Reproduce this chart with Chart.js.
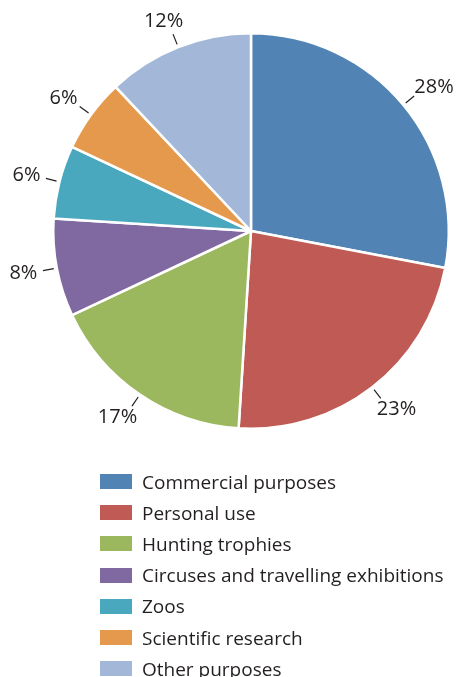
<!DOCTYPE html>
<html>
<head>
<meta charset="utf-8">
<script src="https://cdn.jsdelivr.net/npm/chart.js@4"></script>
<style>
  html, body { margin: 0; padding: 0; background: #fff; }
  #wrap { position: relative; width: 459px; height: 677px; overflow: hidden; }
  #pie { position: absolute; left: 0; top: 0; }
  #legend { position: absolute; left: 100px; top: 466px; font-family: "Open Sans", sans-serif; font-size: 19px; color: #231f20; }
  .row { display: flex; align-items: center; height: 31.2px; white-space: nowrap; }
  .box { width: 32px; height: 15px; margin-right: 10px; flex: none; }
</style>
</head>
<body>
<div id="wrap">
  <canvas id="pie" width="459" height="677"></canvas>
  <div id="legend"></div>
</div>
<script>
const categories = [
  "Commercial purposes",
  "Personal use",
  "Hunting trophies",
  "Circuses and travelling exhibitions",
  "Zoos",
  "Scientific research",
  "Other purposes"
];
const shares = [28, 23, 17, 8, 6, 6, 12];
const colors = ["#5183B5", "#BF5A54", "#9CB85F", "#8068A0", "#49A8BE", "#E5994C", "#A3B8D9"];

// percentage labels with short leader ticks outside each slice
const outsideLabels = {
  id: "outsideLabels",
  afterDatasetsDraw(chart) {
    const ctx = chart.ctx;
    const meta = chart.getDatasetMeta(0);
    ctx.save();
    ctx.font = "20px 'Open Sans', sans-serif";
    ctx.fillStyle = "#231f20";
    ctx.strokeStyle = "#231f20";
    ctx.lineWidth = 1.2;
    ctx.textAlign = "center";
    ctx.textBaseline = "middle";
    meta.data.forEach((arc, i) => {
      const { x, y, startAngle, endAngle, outerRadius } = arc.getProps(["x", "y", "startAngle", "endAngle", "outerRadius"], true);
      const mid = (startAngle + endAngle) / 2;
      const dx = Math.cos(mid), dy = Math.sin(mid);
      const r1 = outerRadius + 3, r2 = outerRadius + 14;
      ctx.beginPath();
      ctx.moveTo(x + dx * r1, y + dy * r1);
      ctx.lineTo(x + dx * r2, y + dy * r2);
      ctx.stroke();
      const text = shares[i] + "%";
      const w = ctx.measureText(text).width;
      const ex = x + dx * r2, ey = y + dy * r2;
      ctx.fillText(text, ex + dx * (w / 2 + 6), ey + dy * (10 + 4));
    });
    ctx.restore();
  }
};

new Chart(document.getElementById("pie"), {
  type: "pie",
  data: {
    labels: categories,
    datasets: [{
      data: shares,
      backgroundColor: colors,
      borderColor: "#ffffff",
      borderWidth: 2.5,
    }],
  },
  options: {
    responsive: false,
    animation: false,
    layout: { padding: { left: 52, right: 9, top: 32, bottom: 247 } },
    plugins: { legend: { display: false }, tooltip: { enabled: false } },
  },
  plugins: [outsideLabels],
});

document.getElementById("legend").innerHTML = categories.map((label, i) => `
  <div class="row"><span class="box" style="background:${colors[i]}"></span>${label}</div>
`).join("");
</script>
</body>
</html>
